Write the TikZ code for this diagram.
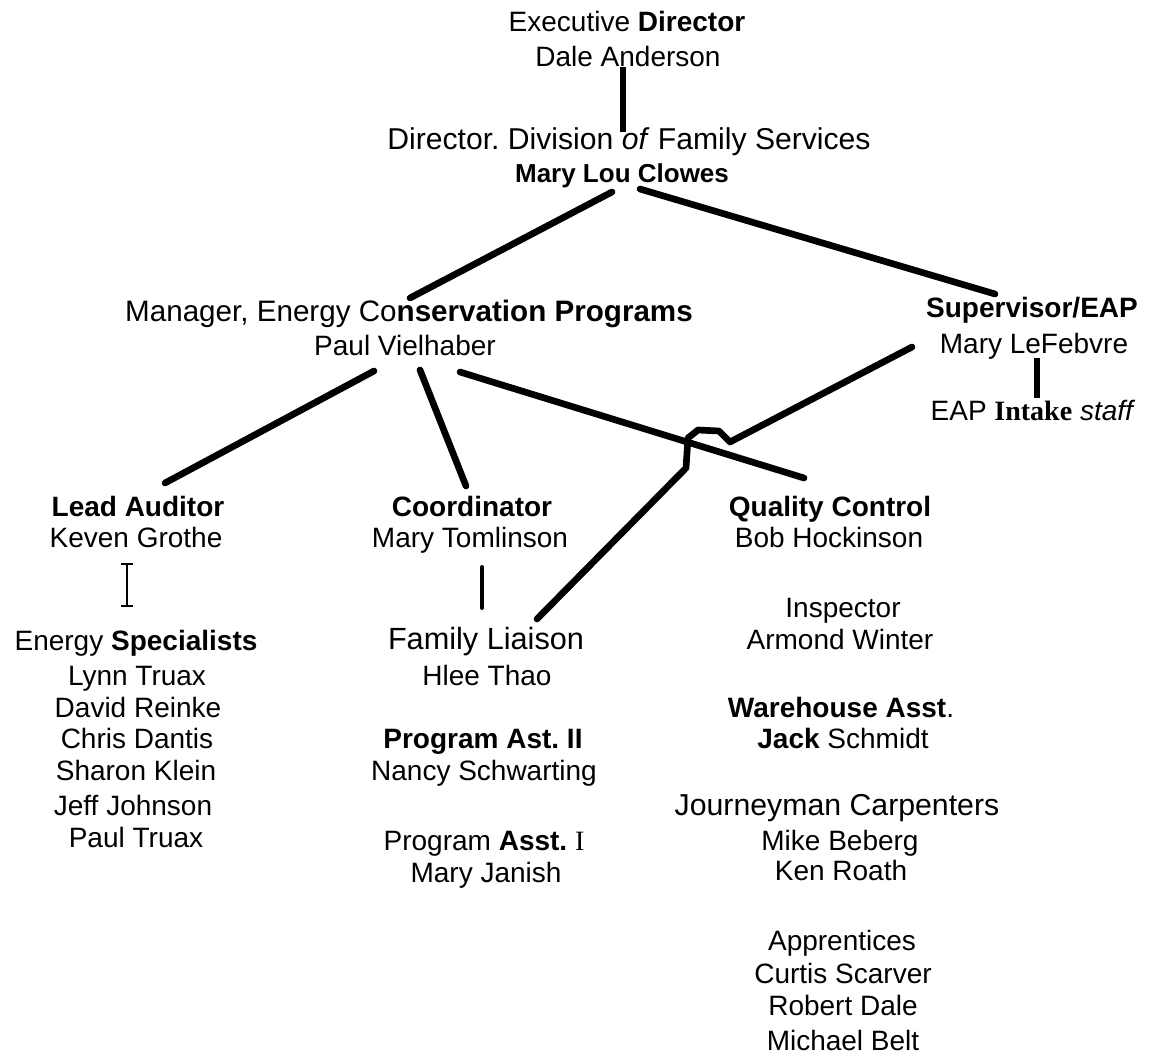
\documentclass[tikz,border=0pt]{standalone}
\usepackage{fontspec}
\setmainfont{Liberation Sans}
\newfontfamily\seriffont{Liberation Serif}
\begin{document}
\frenchspacing
\begin{tikzpicture}[x=0.75pt,y=-0.75pt,
  txt/.style={anchor=base, inner sep=0pt, font=\fontsize{21}{24}\selectfont},
  big/.style={font=\fontsize{#1}{24}\selectfont},
  conn/.style={line width=5pt, line cap=round, line join=round},
  bar/.style={line width=#1, line cap=butt}]
\useasboundingbox (0,0) rectangle (1150,1056);
% top
\node[txt] (exec) at (627,32) {Executive \textbf{Director}};
\node[txt] (dale) at (628,67) {Dale Anderson};
\node[txt,big=22.6] (dir) at (629,149) {Director. Division \textit{of} Family Services};
\node[txt,big=19.5] (clowes) at (622,182) {\textbf{Mary Lou Clowes}};
% level 2
\node[txt,big=22.2] (mgr) at (409,321) {Manager, Energy Co\textbf{nservation Programs}};
\node[txt] (paul) at (405,355) {Paul Vielhaber};
\node[txt] (sup) at (1032,317) {\textbf{Supervisor/EAP}};
\node[txt] (lefebvre) at (1034,353) {Mary LeFebvre};
\node[txt] (eap) at (1033,420) {EAP {\seriffont\bfseries Intake} \textit{staff}};
% level 3 left
\node[txt] (lead) at (138,516) {\textbf{Lead Auditor}};
\node[txt] (keven) at (136,547) {Keven Grothe};
\node[txt] (energy) at (136,650) {Energy \textbf{Specialists}};
\node[txt] (lynn) at (137,685) {Lynn Truax};
\node[txt] (david) at (138,717) {David Reinke};
\node[txt] (chris) at (137,748) {Chris Dantis};
\node[txt] (sharon) at (136,780) {Sharon Klein};
\node[txt] (jeff) at (133,815) {Jeff Johnson};
\node[txt] (ptruax) at (136,847) {Paul Truax};
% level 3 middle
\node[txt] (coord) at (472,516) {\textbf{Coordinator}};
\node[txt] (tomlinson) at (470,547) {Mary Tomlinson};
\node[txt,big=23] (liaison) at (486,649) {Family Liaison};
\node[txt] (hlee) at (487,685) {Hlee Thao};
\node[txt] (pa2) at (483,748) {\textbf{Program Ast. II}};
\node[txt] (nancy) at (484,780) {Nancy Schwarting};
\node[txt] (pa1) at (484,850) {Program \textbf{Asst.} {\seriffont I}};
\node[txt] (janish) at (486,882) {Mary Janish};
% level 3 right
\node[txt] (qc) at (830,516) {\textbf{Quality Control}};
\node[txt] (bob) at (829,547) {Bob Hockinson};
\node[txt] (insp) at (843,617) {Inspector};
\node[txt] (armond) at (840,649) {Armond Winter};
\node[txt] (ware) at (841,717) {\textbf{Warehouse Asst}.};
\node[txt] (jack) at (843,748) {\textbf{Jack} Schmidt};
\node[txt,big=22.7] (journ) at (837,815) {Journeyman Carpenters};
\node[txt] (mike) at (840,850) {Mike Beberg};
\node[txt] (ken) at (841,880) {Ken Roath};
\node[txt] (appr) at (842,950) {Apprentices};
\node[txt] (curtis) at (843,983) {Curtis Scarver};
\node[txt] (robert) at (843,1015) {Robert Dale};
\node[txt] (belt) at (843,1050) {Michael Belt};
% connector end points
\coordinate (daleB) at (623,67);
\coordinate (dirT) at (623,132);
\coordinate (clowesL) at (612,192);
\coordinate (mgrT) at (410,298);
\coordinate (clowesR) at (640,189);
\coordinate (supT) at (995,294);
\coordinate (paulA) at (374,371);
\coordinate (leadT) at (165,483);
\coordinate (paulB) at (420,370);
\coordinate (coordT) at (466,486);
\coordinate (paulC) at (460,372);
\coordinate (qcT) at (804,478);
\coordinate (supB) at (912,347);
\coordinate (liaisonT) at (537,619);
\coordinate (lefB) at (1037,358);
\coordinate (eapT) at (1037,398);
\coordinate (kevenB) at (127,564);
\coordinate (energyT) at (127,606);
\coordinate (tomB) at (482,567);
\coordinate (liaisonTT) at (482,608);
% connectors
\draw[bar=5.2pt] (daleB) -- (dirT);
\draw[conn] (clowesL) -- (mgrT);
\draw[conn] (clowesR) -- (supT);
\draw[conn] (paulA) -- (leadT);
\draw[conn] (paulB) -- (coordT);
\draw[conn] (paulC) -- (qcT);
\draw[conn] (supB) -- (730,442) .. controls (725,436) .. (719,431) -- (698,430) -- (688,438) -- (686,468) -- (liaisonT);
\draw[bar=3.8pt] (lefB) -- (eapT);
\draw[line width=2.2pt] (kevenB) -- (energyT);
\draw[line width=1.2pt] ([xshift=-4.5]kevenB) -- ([xshift=4.5]kevenB);
\draw[line width=1.2pt] ([xshift=-4.5]energyT) -- ([xshift=4.5]energyT);
\draw[line width=3pt, line cap=round] (tomB) -- (liaisonTT);
\end{tikzpicture}
\end{document}
